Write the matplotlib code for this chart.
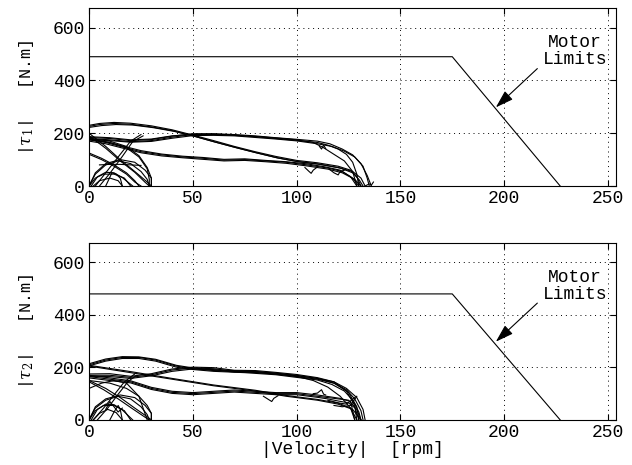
import matplotlib
matplotlib.use("Agg")
import matplotlib.pyplot as plt

# motor limit envelope (velocity rpm, torque N.m)
limit1_v = [0, 175, 227]
limit1_t = [490, 490, 0]
limit2_v = [0, 175, 227]
limit2_t = [480, 480, 0]

# joint 1 trajectories (|velocity|, |torque|) -- each list is one strand
j1_curves = [
    # upper bundle: peak near the start then descending to the right
    ([0, 5, 12, 20, 30, 40, 50, 60, 70, 80, 90, 100, 110, 120, 126, 129, 131],
     [230, 237, 241, 238, 228, 213, 193, 172, 150, 130, 112, 97, 88, 75, 60, 35, 0]),
    ([0, 5, 12, 20, 30, 40, 50, 60, 70, 80, 90, 100, 110, 120, 127, 131, 133],
     [226, 233, 237, 234, 224, 210, 190, 168, 147, 127, 108, 93, 84, 70, 55, 30, 0]),
    ([0, 6, 13, 21, 31, 41, 51, 61, 71, 81, 91, 101, 111, 121, 127, 130, 132],
     [222, 229, 233, 231, 221, 207, 188, 166, 145, 125, 106, 92, 82, 68, 50, 25, 0]),
    # plateau bundle rising then rolling off
    ([0, 10, 20, 30, 40, 50, 60, 70, 80, 90, 100, 110, 115, 120, 124, 127, 129, 130],
     [180, 175, 168, 172, 185, 195, 195, 192, 187, 180, 173, 165, 155, 140, 120, 90, 45, 0]),
    ([0, 10, 20, 30, 40, 50, 60, 70, 80, 90, 100, 110, 116, 122, 127, 131, 134, 136],
     [184, 180, 172, 176, 189, 198, 198, 195, 190, 183, 177, 170, 160, 140, 118, 85, 40, 0]),
    ([0, 10, 20, 30, 40, 50, 60, 70, 80, 90, 100, 110, 117, 123, 128, 132, 134, 135],
     [177, 172, 166, 169, 181, 191, 192, 190, 184, 178, 171, 160, 150, 132, 110, 75, 30, 0]),
    ([0, 10, 20, 30, 40, 50, 60, 70, 80, 90, 100, 108, 113, 118, 123, 127, 129],
     [187, 183, 175, 178, 190, 196, 197, 193, 188, 182, 175, 165, 145, 120, 95, 55, 0]),
    # lower descending bundle
    ([0, 8, 15, 25, 35, 45, 55, 65, 75, 85, 95, 105, 115, 122, 127, 130],
     [175, 165, 150, 130, 118, 110, 105, 98, 100, 95, 90, 80, 68, 55, 30, 0]),
    ([0, 8, 15, 25, 35, 45, 55, 65, 75, 85, 95, 105, 115, 122, 128, 131],
     [170, 160, 146, 126, 114, 107, 101, 95, 97, 92, 86, 76, 64, 50, 25, 0]),
    ([0, 8, 15, 25, 35, 45, 55, 65, 75, 85, 95, 105, 114, 121, 126, 129],
     [178, 168, 154, 134, 121, 113, 108, 101, 103, 97, 92, 84, 72, 60, 35, 0]),
    # spikes on the lower bundle
    ([104, 106, 107, 108, 110], [70, 55, 48, 60, 72]),
    ([116, 118, 120, 121, 123], [62, 50, 42, 55, 60]),
    ([133, 135, 136, 137], [0, 8, 3, 15]),
    ([111, 112, 113, 114], [150, 140, 155, 142]),
    # crossing lines near the origin
    ([0, 8, 15, 22, 28, 30], [200, 150, 100, 55, 15, 0]),
    ([0, 8, 15, 22, 27, 29], [190, 143, 95, 52, 14, 0]),
    ([3, 8, 14, 20, 25], [0, 50, 110, 170, 195]),
    ([5, 10, 16, 21, 26], [0, 48, 112, 168, 190]),
    ([0, 6, 12, 18, 22, 24], [125, 105, 80, 50, 20, 0]),
    ([0, 6, 12, 18, 22, 25], [120, 100, 75, 45, 15, 0]),
    # arcs near the origin
    ([0, 10, 18, 24, 28, 30, 30], [180, 170, 150, 115, 70, 30, 0]),
    ([0, 10, 18, 24, 28, 29, 29], [175, 165, 145, 110, 65, 25, 0]),
    ([0, 3, 8, 15, 22, 27, 30, 30], [0, 50, 85, 100, 90, 60, 30, 0]),
    ([0, 3, 8, 14, 20, 25, 28, 29], [0, 45, 80, 95, 85, 55, 25, 0]),
    ([0, 3, 7, 12, 17, 20], [0, 30, 45, 45, 30, 0]),
    ([1, 4, 8, 12, 16, 21], [0, 35, 52, 50, 32, 0]),
    ([2, 5, 10, 14, 16], [0, 20, 30, 20, 0]),
    ([5, 10, 15, 20, 25], [80, 82, 82, 80, 78]),
    ([8, 11, 13, 15, 16], [0, 50, 45, 30, 0]),
]

# joint 2 trajectories
j2_curves = [
    # peaked start then top plateau bundle
    ([0, 8, 16, 24, 32, 42, 50, 60, 75, 90, 100, 110, 118, 124, 128, 131, 132],
     [210, 228, 238, 238, 228, 205, 195, 188, 183, 175, 165, 155, 140, 115, 80, 35, 0]),
    ([0, 8, 16, 24, 32, 42, 50, 60, 75, 90, 100, 110, 118, 124, 129, 132, 133],
     [214, 232, 241, 240, 231, 208, 198, 191, 186, 178, 168, 158, 145, 120, 85, 40, 0]),
    ([0, 8, 16, 24, 32, 42, 50, 60, 75, 90, 100, 110, 117, 123, 127, 130, 131],
     [206, 224, 234, 234, 224, 201, 192, 185, 180, 172, 162, 152, 135, 110, 75, 30, 0]),
    # rising bundle from the left joining the plateau
    ([0, 10, 20, 30, 40, 50, 60, 70, 80, 90, 100, 110, 118, 125, 129, 130],
     [170, 170, 162, 172, 190, 198, 195, 185, 185, 178, 170, 158, 140, 105, 50, 0]),
    ([0, 10, 20, 30, 40, 50, 60, 70, 80, 90, 100, 110, 118, 124, 128, 129],
     [175, 176, 166, 176, 194, 201, 199, 189, 188, 181, 173, 161, 145, 110, 55, 0]),
    ([0, 10, 20, 30, 40, 50, 60, 70, 80, 90, 100, 108, 115, 121, 126, 128],
     [165, 165, 158, 168, 185, 194, 191, 182, 181, 174, 166, 150, 125, 90, 45, 0]),
    # straight-ish descending line
    ([0, 20, 40, 60, 80, 95, 110, 120, 127, 131],
     [205, 180, 155, 130, 110, 90, 75, 60, 40, 0]),
    ([0, 20, 40, 60, 80, 95, 110, 120, 126, 129],
     [208, 184, 158, 133, 113, 93, 78, 64, 45, 0]),
    # lower wavy bundle
    ([0, 10, 20, 30, 40, 50, 60, 70, 80, 90, 100, 110, 115, 120, 125, 128, 130],
     [165, 155, 145, 120, 105, 100, 105, 110, 105, 100, 100, 90, 85, 80, 75, 50, 0]),
    ([0, 10, 20, 30, 40, 50, 60, 70, 80, 90, 100, 110, 115, 120, 125, 129, 131],
     [160, 150, 141, 116, 101, 96, 101, 106, 101, 96, 96, 86, 80, 72, 65, 40, 0]),
    ([0, 10, 20, 30, 40, 50, 60, 70, 80, 90, 100, 110, 116, 121, 126, 128],
     [170, 160, 149, 124, 109, 104, 109, 114, 109, 104, 104, 95, 88, 82, 70, 0]),
    # spikes on the lower bundle
    ([84, 86, 88, 89, 91], [90, 80, 70, 82, 92]),
    ([108, 110, 112, 113, 114], [100, 102, 115, 98, 95]),
    ([115, 120, 124, 128], [75, 65, 60, 85]),
    ([118, 122, 126, 129], [55, 50, 55, 90]),
    # crossing lines near the origin
    ([0, 8, 15, 22, 28, 30], [150, 120, 85, 45, 12, 0]),
    ([0, 7, 14, 21, 27, 29], [145, 115, 80, 42, 10, 0]),
    ([2, 7, 12, 17, 22], [0, 45, 95, 145, 175]),
    ([4, 9, 14, 19, 23], [0, 45, 98, 148, 170]),
    ([0, 6, 12, 18, 24, 28], [120, 140, 150, 140, 90, 0]),
    # arcs near the origin
    ([0, 10, 18, 24, 28, 30, 30], [150, 140, 120, 90, 55, 25, 0]),
    ([0, 3, 8, 15, 22, 27, 30, 30], [0, 50, 80, 95, 85, 55, 25, 0]),
    ([0, 3, 8, 14, 20, 25, 28, 29], [0, 45, 75, 90, 80, 50, 20, 0]),
    ([0, 3, 7, 12, 17, 20], [0, 35, 55, 55, 35, 0]),
    ([1, 4, 8, 12, 16, 21], [0, 40, 60, 58, 38, 0]),
    ([2, 5, 9, 13, 16], [0, 25, 40, 28, 0]),
    ([8, 10, 12, 14, 16], [40, 70, 50, 30, 45]),
    ([10, 12, 14, 15, 16], [0, 30, 55, 40, 0]),
]

x_ticks = [0, 50, 100, 150, 200, 250]
y_ticks = [0, 200, 400, 600]
ylabels = ["|$\\tau_1$|   [N.m]", "|$\\tau_2$|   [N.m]"]

plt.rcParams["font.family"] = ["Liberation Mono", "DejaVu Sans"]
plt.rcParams["mathtext.fontset"] = "dejavuserif"

fig = plt.figure(figsize=(6.32, 4.65), dpi=100)
ax1 = fig.add_axes([0.141, 0.600, 0.834, 0.383])
ax2 = fig.add_axes([0.141, 0.097, 0.834, 0.381])

panels = [(ax1, j1_curves, limit1_v, limit1_t, ylabels[0]),
          (ax2, j2_curves, limit2_v, limit2_t, ylabels[1])]

for ax, curves, lv, lt, ylab in panels:
    for v, t in curves:
        ax.plot(v, t, color="black", lw=0.8)
    ax.plot(lv, lt, color="black", lw=0.8)
    ax.set_xlim(0, 254)
    ax.set_ylim(0, 675)
    ax.set_xticks(x_ticks)
    ax.set_yticks(y_ticks)
    ax.tick_params(direction="in", top=True, right=True, labelsize=13, length=4, pad=3)
    ax.grid(True, color="black", linestyle=(0, (1, 4)), linewidth=0.7)
    ax.set_ylabel(ylab, fontsize=12, labelpad=12)
    ax.text(234, 512, "Motor\nLimits", ha="center", va="center", fontsize=13,
            linespacing=1.0)
    ax.annotate("", xy=(196, 298), xytext=(216, 445),
                arrowprops=dict(arrowstyle="-|>,head_length=1.1,head_width=0.35",
                                color="black", lw=0.8, shrinkA=0, shrinkB=0))

ax2.set_xlabel("|Velocity|  [rpm]", fontsize=13, labelpad=0)

fig.savefig("out.png", dpi=100)
